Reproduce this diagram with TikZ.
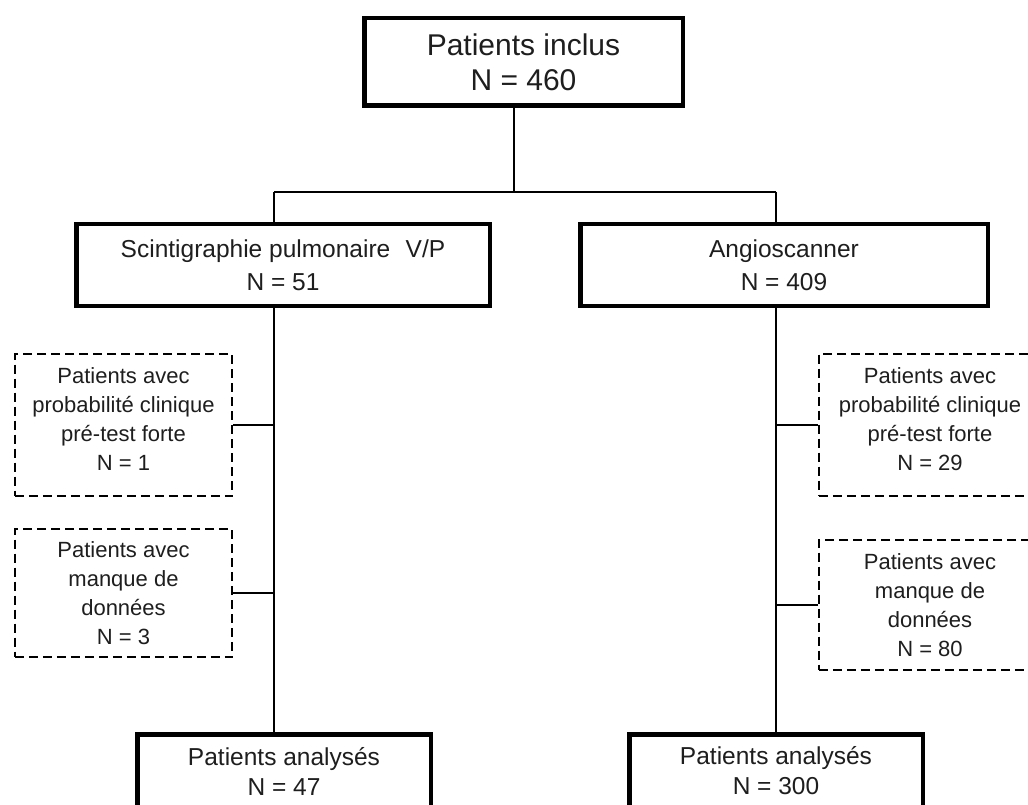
\documentclass[tikz,border=0pt]{standalone}
\usepackage{fontspec}
\setmainfont{Liberation Sans}
\definecolor{txt}{HTML}{1E1E1E}
\newcommand{\lowpad}{\rule[-12pt]{0pt}{0pt}}
\begin{document}
\begin{tikzpicture}[x=1pt,y=-1pt,
  thickbox/.style={draw=black, line width=4.5pt, inner sep=0pt, align=center, text=txt},
  dashbox/.style={draw=black, line width=1.6pt, dash pattern=on 9pt off 5pt, inner sep=0pt, align=center, text=txt},
  conn/.style={draw=black, line width=1.4pt},
  bigfont/.style={font=\fontsize{30}{35}\selectfont},
  midfont/.style={font=\fontsize{24.5}{33}\selectfont},
  botfont/.style={font=\fontsize{24.5}{30}\selectfont},
  smallfont/.style={font=\fontsize{22}{29}\selectfont}]
\useasboundingbox (0,0) rectangle (1028,805);
\clip (0,0) rectangle (1028,805);
\fill[white] (0,0) rectangle (1028,805);

% boxes
\node[thickbox, bigfont, minimum width=318.5pt, minimum height=87.5pt] (top) at (523.5,62) {Patients inclus\\N = 460};
\node[thickbox, midfont, minimum width=413.5pt, minimum height=81.5pt] (sL) at (283,265) {Scintigraphie pulmonaire\hspace{0.35em} V/P\\N = 51};
\node[thickbox, midfont, minimum width=407.5pt, minimum height=81.5pt] (sR) at (784,265) {Angioscanner\\N = 409};

\node[dashbox, smallfont, minimum width=217.4pt, minimum height=142.4pt] (d1L) at (123.5,425) {Patients avec\\probabilité clinique\\pré-test forte\\N = 1\lowpad};
\node[dashbox, smallfont, minimum width=217.4pt, minimum height=128.4pt] (d2L) at (123.5,593) {Patients avec\\manque de\\données\\N = 3};
\node[dashbox, smallfont, minimum width=222.4pt, minimum height=142.4pt] (d1R) at (930,425) {Patients avec\\probabilité clinique\\pré-test forte\\N = 29\lowpad};
\node[dashbox, smallfont, minimum width=222.4pt, minimum height=130.4pt] (d2R) at (930,605) {Patients avec\\manque de\\données\\N = 80};

\node[thickbox, botfont, minimum width=293.5pt, minimum height=73.5pt] (bL) at (284,771) {Patients analysés\\N = 47};
\node[thickbox, botfont, minimum width=293.5pt, minimum height=73.5pt] (bR) at (776,771) {Patients analysés\\N = 300};

% junction coordinates
\coordinate (jC) at (514,192);
\coordinate (jL) at (274,192);
\coordinate (jR) at (776,192);

% connectors
\draw[conn] (jC |- top.south) -- (jC);
\draw[conn] (jL) -- (jR);
\draw[conn] (jL) -- (jL |- sL.north);
\draw[conn] (jR) -- (jR |- sR.north);
\draw[conn] (jL |- sL.south) -- (jL |- bL.north);
\draw[conn] (jR |- sR.south) -- (jR |- bR.north);
\draw[conn] (d1L.east) -- (d1L.east -| jL);
\draw[conn] (d2L.east) -- (d2L.east -| jL);
\draw[conn] (d1R.west) -- (d1R.west -| jR);
\draw[conn] (d2R.west) -- (d2R.west -| jR);
\end{tikzpicture}
\end{document}
